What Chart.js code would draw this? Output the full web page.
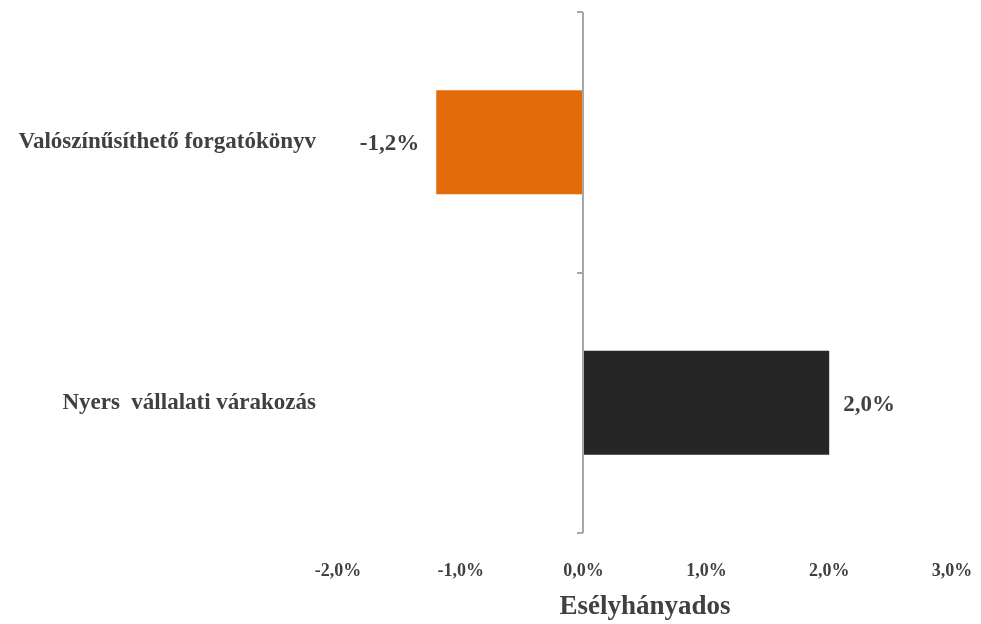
<!DOCTYPE html>
<html>
<head>
<meta charset="utf-8">
<script src="https://cdn.jsdelivr.net/npm/chart.js@4"></script>
<style>
  html, body { margin: 0; padding: 0; background: #fff; }
  #wrap { width: 981px; height: 624px; }
</style>
</head>
<body>
<div id="wrap"><canvas id="chart"></canvas></div>
<script>
const categories = ['Valószínűsíthető forgatókönyv', 'Nyers  vállalati várakozás'];
const values = [-1.2, 2.0];
const barColors = ['#E36C09', '#262626'];
const xTicks = [-2, -1, 0, 1, 2, 3];
const axisTitle = 'Esélyhányados';

const textColor = '#404040';
const serif = "'Liberation Serif', 'DejaVu Serif', serif";

function fmt(v) {
  return v.toFixed(1).replace('.', ',') + '%';
}

// zero line with small ticks at category boundaries
const zeroLine = {
  id: 'zeroLine',
  afterDatasetsDraw(chart) {
    const {ctx, scales: {x, y}} = chart;
    const x0 = Math.round(x.getPixelForValue(0)) - 1;
    const half = (y.getPixelForValue(1) - y.getPixelForValue(0)) / 2;
    const top = y.getPixelForValue(0) - half;
    const bottom = y.getPixelForValue(categories.length - 1) + half;
    ctx.save();
    ctx.strokeStyle = '#A6A6A6';
    ctx.lineWidth = 2;
    ctx.beginPath();
    ctx.moveTo(x0, top);
    ctx.lineTo(x0, bottom);
    for (let i = 0; i <= categories.length; i++) {
      const yy = Math.round(top + i * half * 2);
      ctx.moveTo(x0 - 6, yy);
      ctx.lineTo(x0, yy);
    }
    ctx.stroke();
    ctx.restore();
  }
};

// value labels beside the bar ends
const valueLabels = {
  id: 'valueLabels',
  afterDatasetsDraw(chart) {
    const {ctx} = chart;
    const meta = chart.getDatasetMeta(0);
    ctx.save();
    ctx.font = "bold 23px " + serif;
    ctx.fillStyle = textColor;
    ctx.textBaseline = 'middle';
    meta.data.forEach((bar, i) => {
      const v = values[i];
      if (v < 0) {
        ctx.textAlign = 'right';
        ctx.fillText(fmt(v), bar.x - 17, bar.y + 2);
      } else {
        ctx.textAlign = 'left';
        ctx.fillText(fmt(v), bar.x + 14, bar.y + 2);
      }
    });
    ctx.restore();
  }
};

new Chart(document.getElementById('chart'), {
  type: 'bar',
  data: {
    labels: categories,
    datasets: [{
      data: values,
      backgroundColor: barColors,
      borderWidth: 0,
      barPercentage: 0.8,
      categoryPercentage: 0.5
    }]
  },
  options: {
    indexAxis: 'y',
    responsive: true,
    maintainAspectRatio: false,
    animation: false,
    layout: { padding: { left: 8, right: 29, top: 12, bottom: 0 } },
    plugins: {
      legend: { display: false },
      tooltip: { enabled: false }
    },
    scales: {
      x: {
        min: -2,
        max: 3,
        afterBuildTicks(scale) {
          scale.ticks = xTicks.map(v => ({ value: v }));
        },
        afterFit(scale) {
          scale.height = 91;
          scale.paddingLeft = 0;
          scale.paddingRight = 0;
        },
        grid: { display: false },
        border: { display: false },
        ticks: {
          color: textColor,
          padding: 20,
          font: { family: serif, size: 18, weight: 'bold' },
          callback: v => fmt(v)
        },
        title: {
          display: true,
          text: axisTitle,
          color: textColor,
          padding: { top: 0, bottom: 1 },
          font: { family: serif, size: 27, weight: 'bold' }
        }
      },
      y: {
        grid: { display: false },
        border: { display: false },
        afterFit(scale) {
          scale.width = 330;
          scale.paddingTop = 0;
          scale.paddingBottom = 0;
        },
        ticks: {
          color: textColor,
          padding: 14,
          font: { family: serif, size: 23, weight: 'bold' }
        }
      }
    }
  },
  plugins: [zeroLine, valueLabels]
});
</script>
</body>
</html>
